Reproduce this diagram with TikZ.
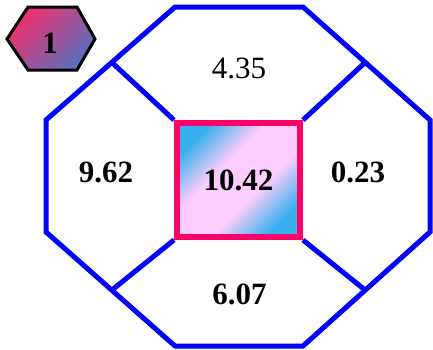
\documentclass[tikz,border=0pt]{standalone}
\usepackage{fontspec}
\setmainfont{Liberation Serif}
\usetikzlibrary{backgrounds,calc}
\definecolor{octblue}{HTML}{0000FF}
\definecolor{sqpink}{HTML}{FF0066}
\definecolor{sqblue}{HTML}{3AB0F0}
\definecolor{sqlight}{HTML}{FCCCFC}
\definecolor{hexred}{HTML}{F0306A}
\definecolor{hexblue}{HTML}{5A70C0}
\pgfdeclareverticalshading{sqshade}{100bp}{color(0bp)=(sqblue); color(25bp)=(sqblue); color(41bp)=(sqlight); color(59bp)=(sqlight); color(75bp)=(sqblue); color(100bp)=(sqblue)}
\tikzset{
  octline/.style={draw=octblue, line width=5pt, line join=miter},
  centerbox/.style={draw=sqpink, line width=6pt, minimum width=123pt, minimum height=114pt,
    shading=sqshade, shading angle=45,
    inner sep=0pt, font=\fontsize{31}{33}\selectfont\bfseries},
  val/.style={font=\fontsize{31}{33}\selectfont\bfseries, inner sep=0pt},
  valreg/.style={font=\fontsize{31}{33}\selectfont, inner sep=0pt},
  hexshape/.style={draw=black, line width=3pt, line join=miter, top color=hexred, bottom color=hexblue, shading angle=45},
}
\begin{document}
\begin{tikzpicture}[x=1pt,y=-1pt]
\useasboundingbox (0,0) rectangle (433,349);
% octagon vertices
\coordinate (o1) at (175,7);
\coordinate (o2) at (303,7);
\coordinate (o3) at (430,120);
\coordinate (o4) at (430,232);
\coordinate (o5) at (303,346);
\coordinate (o6) at (175,346);
\coordinate (o7) at (46,232);
\coordinate (o8) at (46,120);
\coordinate (j1) at ($(o8)!0.51!(o1)$);
\coordinate (j2) at ($(o2)!0.49!(o3)$);
\coordinate (j3) at ($(o4)!0.51!(o5)$);
\coordinate (j4) at ($(o6)!0.49!(o7)$);
\draw[octline] (o1) -- (o2) -- (o3) -- (o4) -- (o5) -- (o6) -- (o7) -- (o8) -- cycle;
% centre square
\node[centerbox] (sq) at (238.5,180) {10.42};
\begin{pgfonlayer}{background}
\draw[octline] (sq.north west) -- (j1);
\draw[octline] (sq.north east) -- (j2);
\draw[octline] (sq.south east) -- (j3);
\draw[octline] (sq.south west) -- (j4);
\end{pgfonlayer}
% region values
\node[valreg] (top) at (239,68) {4.35};
\node[val] (left) at (106,172) {9.62};
\node[val] (right) at (358,172) {0.23};
\node[val] (bottom) at (239.5,294) {6.07};
% hexagon badge
\coordinate (h1) at (7,39);
\coordinate (h2) at (28,7);
\coordinate (h3) at (77,7);
\coordinate (h4) at (95,39);
\coordinate (h5) at (77,70);
\coordinate (h6) at (28,70);
\path[hexshape] (h1) -- (h2) -- (h3) -- (h4) -- (h5) -- (h6) -- cycle;
\node[val] (badge) at (50,43) {1};
\end{tikzpicture}
\end{document}
